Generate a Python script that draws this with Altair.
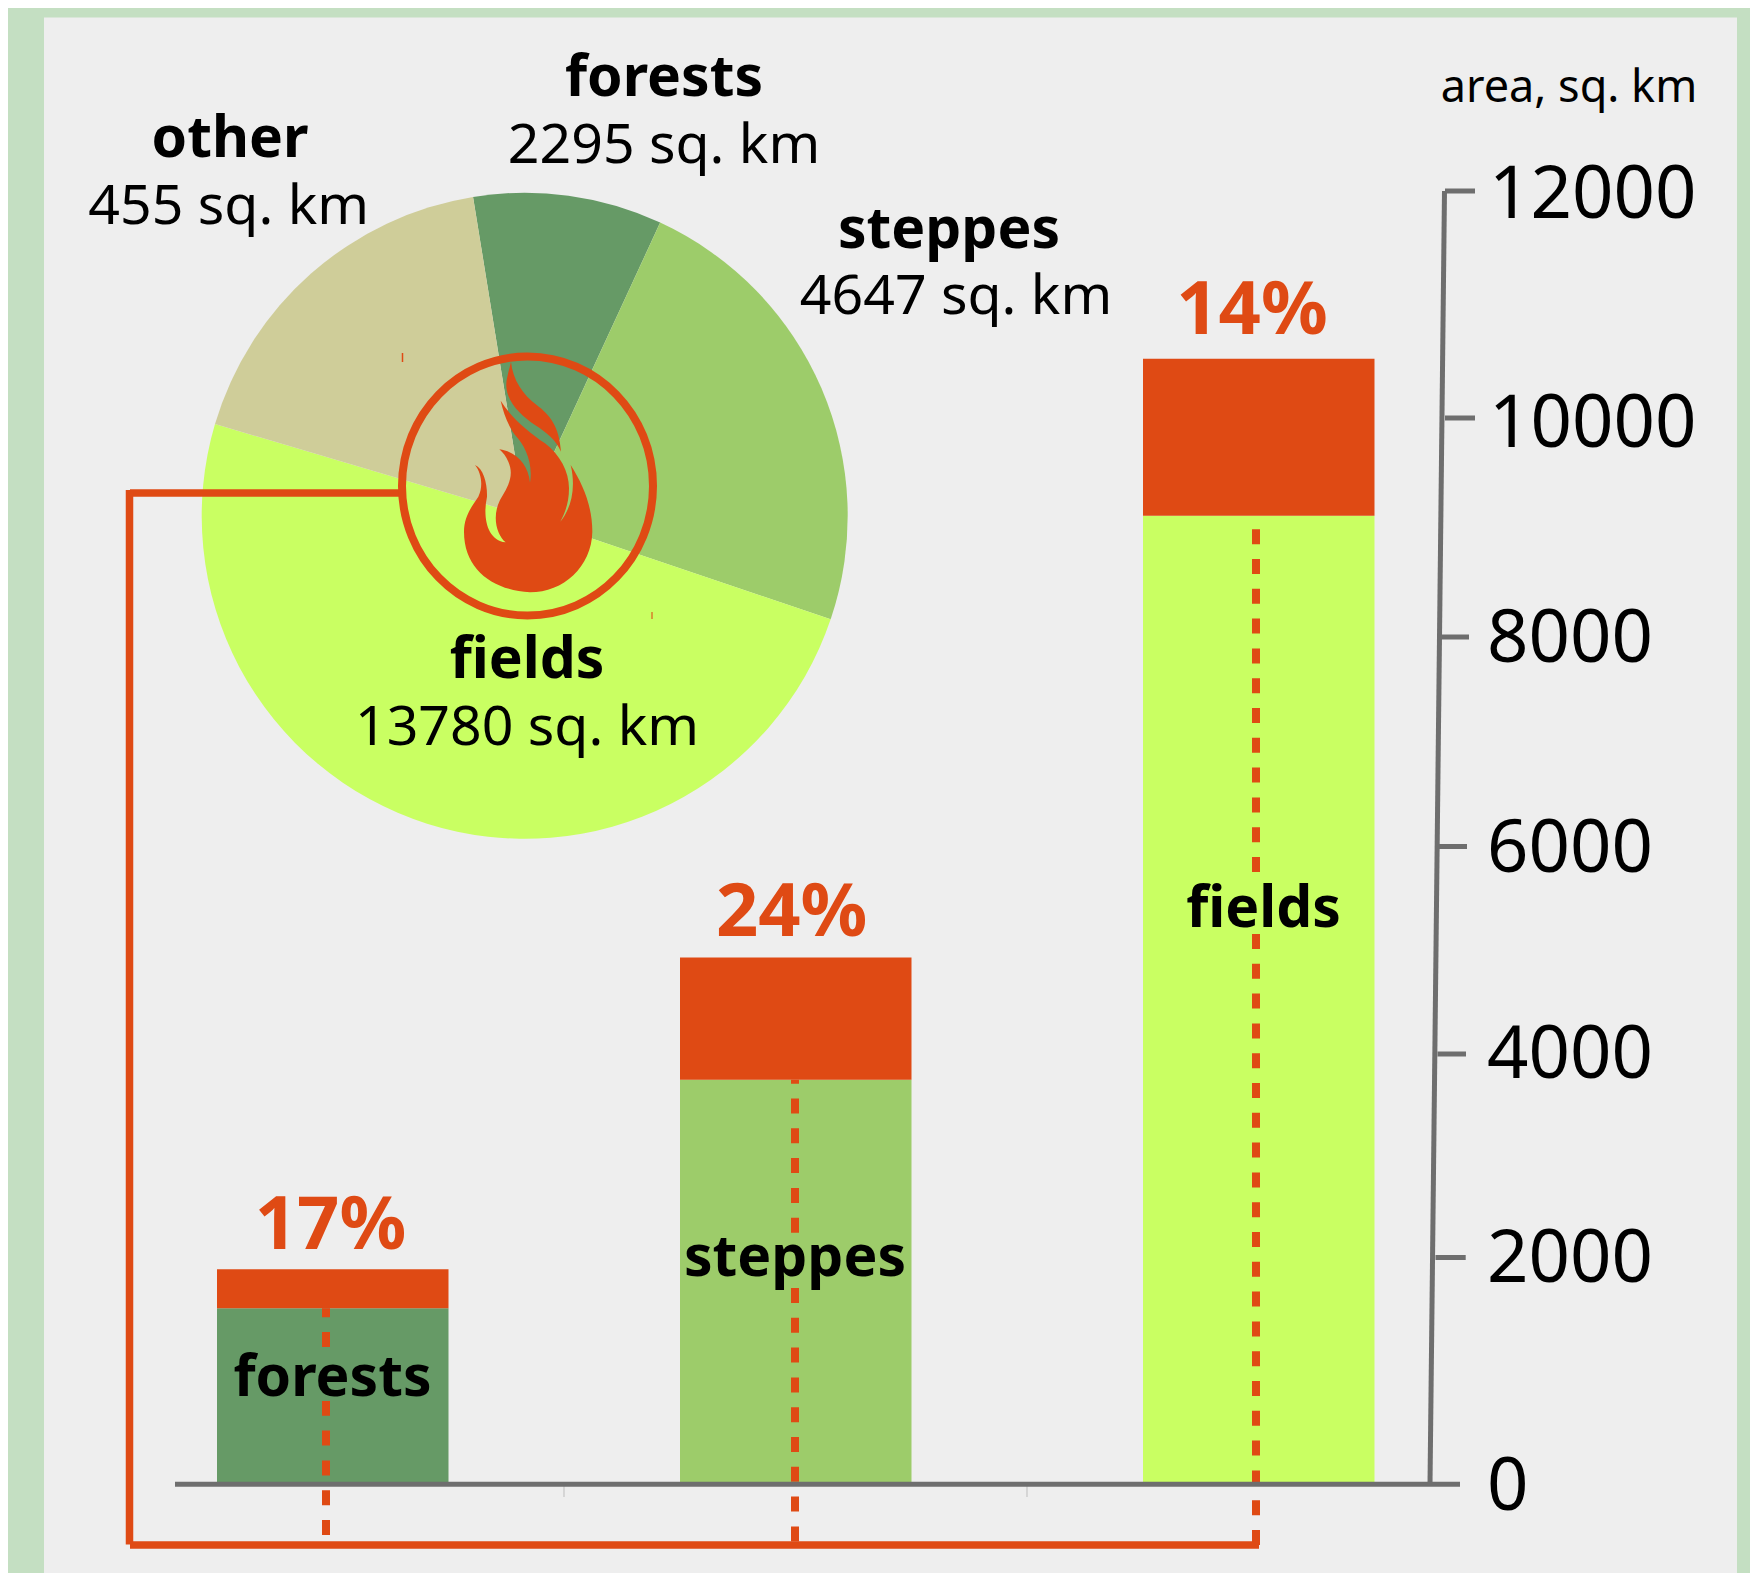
import altair as alt
import pandas as pd

# ---- values ----
regions = ["forests", "steppes", "fields"]
unburned = [1552, 3747, 9107]
total = [1896, 4930, 10522]
burned_pct = ["17%", "24%", "14%"]

axis_ticks = [0, 2000, 4000, 6000, 8000, 10000, 12000]

pie_names = ["forests", "steppes", "fields", "other"]
pie_shares = [34.0, 83.9, 177.8, 64.3]
pie_areas = ["2295 sq. km", "4647 sq. km", "13780 sq. km", "455 sq. km"]

# ---- styles ----
GREEN_BG, PANEL = "#c4dfc2", "#eeeeee"
RED, GREY = "#df4a14", "#6e6e6e"
COLORS = {"forests": "#669a66", "steppes": "#9dcc6a", "fields": "#c9ff62", "other": "#cfcd99"}
FONT = "Noto Sans"

W, H = 1742, 1557
OFF = 8


def X(v):
    return alt.value(v - OFF)


def Y(v):
    return alt.value(v - OFF)


blank = pd.DataFrame({"a": [0]})
y_scale = alt.Scale(
    domain=axis_ticks,
    range=[p - OFF for p in [1484.3, 1257.5, 1054, 846.5, 637, 418, 191]],
    nice=False,
    zero=False,
)
x_scale = alt.Scale(domain=regions, range=[217 - OFF, 217 - OFF + 463 * 2 + 231.5], paddingInner=0.5, paddingOuter=0)

layers = []


def rule(x, y, x2=None, y2=None, color=GREY, width=5, dash=None, opacity=1):
    kw = {"color": color, "strokeWidth": width, "opacity": opacity}
    if dash:
        kw["strokeDash"] = dash
    enc = {"x": X(x), "y": Y(y)}
    if x2 is not None:
        enc["x2"] = X(x2)
    if y2 is not None:
        enc["y2"] = Y(y2)
    layers.append(alt.Chart(blank).mark_rule(**kw).encode(**enc))


def text(s, x, y, size, bold=False, color="black", align="center"):
    layers.append(
        alt.Chart(pd.DataFrame({"t": [s]}))
        .mark_text(
            font=FONT,
            fontSize=size,
            fontWeight="bold" if bold else "normal",
            color=color,
            align=align,
            baseline="alphabetic",
        )
        .encode(x=X(x), y=Y(y), text="t:N")
    )


# panel
layers.append(
    alt.Chart(blank).mark_rect(color=PANEL).encode(x=X(44), x2=X(1737), y=Y(17.5), y2=Y(1573))
)

# pie
pie_df = pd.DataFrame({"name": pie_names, "share": pie_shares, "idx": range(4)})
START = -0.1606
layers.append(
    alt.Chart(pie_df)
    .mark_arc(outerRadius=323, innerRadius=0)
    .encode(
        x=X(524.7),
        y=Y(515.8),
        theta=alt.Theta("share:Q", stack=True, scale=alt.Scale(domain=[0, 360], range=[START, START + 6.28319])),
        color=alt.Color(
            "name:N",
            scale=alt.Scale(domain=list(COLORS), range=list(COLORS.values())),
            legend=None,
        ),
        order=alt.Order("idx:Q"),
    )
)

# bars
bar_df = pd.DataFrame({"region": regions, "base": unburned, "total": total})
bar_x = alt.X("region:N", scale=x_scale, axis=None)
layers.append(
    alt.Chart(bar_df)
    .mark_bar(cornerRadius=0)
    .encode(
        x=bar_x,
        y=alt.Y("base:Q", scale=y_scale, axis=None),
        y2=alt.datum(0),
        color=alt.Color("region:N", scale=alt.Scale(domain=list(COLORS), range=list(COLORS.values())), legend=None),
    )
)
layers.append(
    alt.Chart(bar_df)
    .mark_bar(color=RED, cornerRadius=0)
    .encode(x=bar_x, y=alt.Y("total:Q", scale=y_scale, axis=None), y2="base:Q")
)

# connecting red lines
DASH = [15, 14.8]
rule(130, 493, x2=402, color=RED, width=7.5)
rule(129.5, 490, y2=1544.5, color=RED, width=7.5)
rule(130, 1545, x2=1259, color=RED, width=7.5)
# the dashes stop short of each bar label
rule(326, 1535, y2=1401, color=RED, width=8, dash=DASH)
rule(326, 1347, y2=1308.3, color=RED, width=8, dash=DASH)
rule(795, 1541.4, y2=1288, color=RED, width=8, dash=DASH)
rule(795, 1232.7, y2=1079.7, color=RED, width=8, dash=DASH)
rule(1256, 1545, y2=934, color=RED, width=8, dash=DASH)
rule(1256, 872, y2=515.8, color=RED, width=8, dash=DASH)

# stray marks of the source
rule(402.5, 353, y2=362, color=RED, width=1.5)
rule(652, 612, y2=619, color=RED, width=1.5, opacity=0.7)
rule(564, 1484, y2=1497, color="#bdbdbd", width=1)
rule(1027, 1484, y2=1497, color="#bdbdbd", width=1)

# value axis
rule(1444.5, 191, x2=1430, y2=1484.3, width=5)
tick_x = [(175, 1460), (1435.5, 1465.7), (1437.5, 1466), (1437.5, 1467), (1439, 1469), (1445, 1475), (1445, 1475)]
label_x = [1487, 1487, 1487, 1487, 1487, 1489, 1489]
label_dy = [26, 24, 24, 25, 25, 28.5, 27]
for v, (a, b), lx, dy in zip(axis_ticks, tick_x, label_x, label_dy):
    one = pd.DataFrame({"v": [v], "t": [str(v)]})
    layers.append(
        alt.Chart(one)
        .mark_rule(color=GREY, strokeWidth=5)
        .encode(x=X(a), x2=X(b), y=alt.Y("v:Q", scale=y_scale, axis=None))
    )
    layers.append(
        alt.Chart(one)
        .mark_text(font=FONT, fontSize=72.5, color="black", align="left", baseline="alphabetic", dy=dy)
        .encode(x=X(lx), y=alt.Y("v:Q", scale=y_scale, axis=None), text="t:N")
    )
text("area, sq. km", 1569, 101.7, 45)

# ring (slightly taller than wide in the source) and flame
ring = "M-125.5,0A125.5,129.5 0 1 1 125.5,0A125.5,129.5 0 1 1 -125.5,0Z"
layers.append(
    alt.Chart(blank)
    .mark_point(shape=ring, size=4, filled=False, stroke=RED, strokeWidth=8, opacity=1)
    .encode(x=X(527.5), y=Y(486))
)

CX, CY = 385, 410  # flame outline is traced at 3x around this point
flame = [
    ["M", (333, 65)],
    ["C", (338, 120), (370, 165), (410, 195)],
    ["C", (450, 225), (478, 260), (483, 335)],
    ["C", (468, 300), (440, 278), (405, 255)],
    ["C", (360, 225), (305, 175), (322, 110)],
    ["C", (325, 95), (330, 80), (333, 65)],
    ["Z"],
    ["M", (302, 182)],
    ["C", (335, 235), (385, 275), (435, 310)],
    ["C", (480, 345), (507, 395), (507, 445)],
    ["C", (507, 485), (497, 515), (481, 545)],
    ["C", (510, 510), (530, 450), (512, 375)],
    ["C", (550, 435), (577, 500), (577, 575)],
    ["C", (575, 680), (490, 757), (390, 757)],
    ["C", (280, 750), (192, 690), (192, 575)],
    ["C", (192, 530), (215, 500), (235, 470)],
    ["C", (250, 440), (245, 400), (225, 375)],
    ["C", (250, 385), (262, 430), (261, 470)],
    ["C", (248, 530), (260, 600), (317, 607)],
    ["C", (290, 585), (275, 530), (300, 480)],
    ["C", (320, 445), (345, 410), (325, 365)],
    ["C", (318, 350), (310, 338), (298, 328)],
    ["C", (350, 335), (385, 375), (390, 428)],
    ["C", (400, 370), (375, 315), (345, 285)],
    ["C", (320, 250), (310, 215), (302, 182)],
    ["Z"],
]
path = ""
for seg in flame:
    path += seg[0] + " ".join(f"{(p[0]-CX)/3:.2f},{(p[1]-CY)/3:.2f}" for p in seg[1:])
layers.append(
    alt.Chart(blank)
    .mark_point(shape=path, size=4, filled=True, color=RED, opacity=1, strokeWidth=0)
    .encode(x=X(400 + CX / 3), y=Y(340 + CY / 3))
)

# pie labels
label_pos = {
    "forests": ((664, 96), (664, 162.5)),
    "steppes": ((949, 248), (956, 314)),
    "fields": ((527, 678), (527, 744.5)),
    "other": ((230, 157), (228.7, 223.5)),
}
for name, area in zip(pie_names, pie_areas):
    (a, b), (c, d) = label_pos[name]
    text(name, a, b, 57, bold=True)
    text(area, c, d, 55.4)

# bar labels
bar_label_pos = [(332.5, 1395.5), (795, 1276), (1263.6, 927)]
pct_pos = [(330.5, 1249), (791.6, 936), (1252, 334)]
for name, (a, b), pct, (c, d) in zip(regions, bar_label_pos, burned_pct, pct_pos):
    text(name, a, b, 57, bold=True)
    text(pct, c, d, 74, bold=True, color=RED)

chart = (
    alt.layer(*layers)
    .resolve_scale(color="independent", theta="independent")
    .properties(width=W, height=H, background=GREEN_BG, padding=0)
    .configure_view(stroke=None, fill=None)
)
chart.save("out.html", embed_options={"renderer": "svg", "actions": False})
